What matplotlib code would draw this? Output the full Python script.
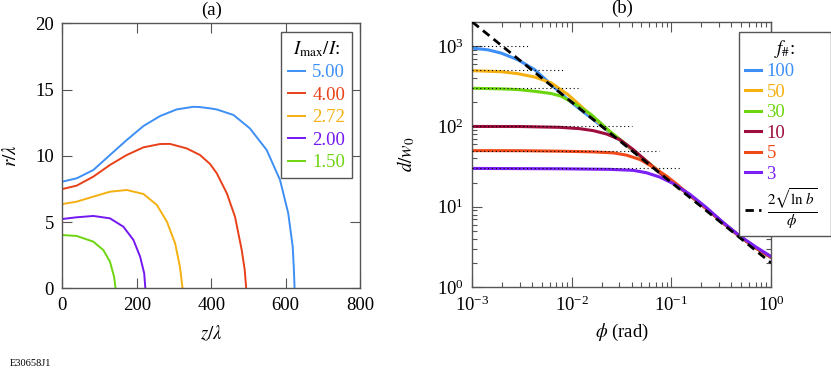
import matplotlib
matplotlib.use("Agg")
import matplotlib.pyplot as plt

plt.rcParams["font.family"] = ["Liberation Serif", "DejaVu Serif"]
plt.rcParams["mathtext.fontset"] = "stix"
plt.rcParams["font.size"] = 13.5

# ---- panel (a): contours r/lambda vs z/lambda ----
ratio_labels = ["5.00", "4.00", "2.72", "2.00", "1.50"]
ratio_colors = ["#3d8ff5", "#e84018", "#f5b012", "#7318f0", "#6dd510"]

z_500 = [0, 38.6, 83.4, 128, 173, 218, 262.5, 307, 352, 370, 397, 415, 460, 504, 549, 585, 607, 619, 622, 624]
r_500 = [8.05, 8.30, 8.93, 10.06, 11.19, 12.25, 13.0, 13.5, 13.7, 13.68, 13.58, 13.5, 13.08, 12.07, 10.44, 8.17, 5.66, 3.14, 1.5, 0]

z_400 = [0, 38.6, 83.4, 128, 173, 218, 262.5, 289, 334, 370, 397, 415, 442, 464, 482, 490, 494]
r_400 = [7.49, 7.75, 8.43, 9.31, 10.06, 10.64, 10.89, 10.9, 10.56, 10.06, 9.38, 8.68, 7.17, 5.4, 2.89, 1.4, 0]

z_272 = [0, 38.6, 83.4, 128, 173, 218, 254, 281, 303, 316, 323]
r_272 = [6.36, 6.54, 6.92, 7.29, 7.42, 7.12, 6.29, 5.03, 3.40, 1.63, 0]

z_200 = [0, 38.6, 83.4, 128, 164, 191, 209, 220, 223]
r_200 = [5.23, 5.36, 5.46, 5.28, 4.65, 3.65, 2.39, 1.13, 0]

z_150 = [0, 38.6, 83.4, 110, 128, 139, 143]
r_150 = [4.02, 3.95, 3.52, 2.89, 2.01, 0.88, 0]

# ---- panel (b): d/w0 vs phi ----
fnum_labels = ["100", "50", "30", "10", "5", "3"]
fnum_colors = ["#3d8ff5", "#f5b012", "#6dd510", "#9c0d3c", "#ef4a17", "#7a1ff5"]

tail_phi = [0.153, 0.224, 0.33, 0.48, 0.71, 1.0]
tail_d = [13.9, 9.5, 6.3, 4.3, 3.05, 2.35]

phi_100 = [1e-3, 1.44e-3, 1.95e-3, 2.87e-3, 4.23e-3, 6.21e-3, 9.12e-3, 1.34e-2, 2.0e-2, 3.0e-2, 5e-2, 0.1] + tail_phi
d_100 = [945, 900, 819, 677, 509, 332, 216, 148, 101, 68, 41, 20.5] + tail_d

phi_50 = [1e-3, 1.95e-3, 2.87e-3, 4.23e-3, 6.21e-3, 9.12e-3, 1.34e-2, 2.0e-2, 3.0e-2, 5e-2, 0.1] + tail_phi
d_50 = [495, 481, 454, 413, 348, 250, 163, 104, 69, 41.5, 20.5] + tail_d

phi_30 = [1e-3, 1.95e-3, 2.87e-3, 4.23e-3, 6.21e-3, 7.8e-3, 1.06e-2, 1.56e-2, 2.4e-2, 3.5e-2, 5e-2, 0.1] + tail_phi
d_30 = [299, 294, 288, 274, 257, 238, 193, 141, 87, 60, 41.5, 20.5] + tail_d

phi_10 = [1e-3, 3e-3, 7.6e-3, 1.2e-2, 1.637e-2, 2.229e-2, 3.028e-2, 4.121e-2, 5.61e-2, 7.63e-2, 0.1] + tail_phi
d_10 = [100, 99.8, 97.5, 93.8, 88.7, 80.5, 68.6, 51.6, 37.0, 26.5, 20.5] + tail_d

phi_5 = [1e-3, 3e-3, 7.59e-3, 1.637e-2, 2.594e-2, 3.54e-2, 4.812e-2, 6.534e-2, 8.91e-2, 0.112] + tail_phi
d_5 = [50, 49.9, 49.2, 48.2, 46.9, 43.9, 38.8, 31.2, 24.1, 19.3] + tail_d

phi_3 = [1e-3, 7.6e-3, 2.404e-2, 4.12e-2, 5.61e-2, 7.63e-2, 0.1037, 0.153, 0.224, 0.33, 0.4835, 0.711, 1.0]
d_3 = [30, 29.7, 29.2, 28.4, 26.5, 23.4, 19.5, 14.3, 9.77, 6.37, 4.35, 3.13, 2.40]

asym_phi = [1e-3, 1.0]
asym_d = [2000, 2.0]

plateau_d = [1000, 500, 300, 100, 50, 30]
plateau_end = [3.8e-3, 8.1e-3, 1.23e-2, 3.97e-2, 7.5e-2, 0.125]

spine_col = "#555555"

fig = plt.figure(figsize=(8.31, 3.68), dpi=100)
ax1 = fig.add_axes([0.075, 0.2166, 0.3583, 0.720])
ax2 = fig.add_axes([0.5684, 0.2201, 0.3594, 0.7201])

# panel (a)
curves_a = [(z_500, r_500), (z_400, r_400), (z_272, r_272), (z_200, r_200), (z_150, r_150)]
for (z, r), lab, c in zip(curves_a, ratio_labels, ratio_colors):
    ax1.plot(z, r, color=c, lw=1.4, label=lab, solid_joinstyle="round")

ax1.set_xlim(0, 800)
ax1.set_ylim(0, 20)
ax1.set_xticks([0, 200, 400, 600, 800])
ax1.set_yticks([0, 5, 10, 15, 20])
ax1.set_xlabel(r"$z/\lambda$")
ax1.set_ylabel(r"$r/\lambda$")
ax1.xaxis.set_label_coords(0.5, -0.135)
ax1.yaxis.set_label_coords(-0.142, 0.5)
ax1.text(0.5, 1.05, "(a)", transform=ax1.transAxes, ha="center", va="center")

leg1 = ax1.legend(loc="upper right", bbox_to_anchor=(0.972, 0.966), borderaxespad=0,
                  title=r"$I_{\mathrm{max}}/I$:", frameon=True, fancybox=False,
                  edgecolor=spine_col, framealpha=1, handlelength=0.9, handletextpad=0.4,
                  labelspacing=0.29, borderpad=0.35, labelcolor="linecolor")
leg1.get_frame().set_linewidth(1.0)
leg1.get_title().set_fontsize(13.5)

# panel (b)
curves_b = [(phi_100, d_100), (phi_50, d_50), (phi_30, d_30), (phi_10, d_10), (phi_5, d_5), (phi_3, d_3)]
for i, ((p, d), lab, c) in enumerate(zip(curves_b, fnum_labels, fnum_colors)):
    ax2.plot(p, d, color=c, lw=2.2, label=lab, zorder=2 + i * 0.1, solid_joinstyle="round")

for val, end in zip(plateau_d, plateau_end):
    ax2.plot([1e-3, end], [val, val], color="black", lw=0.8, ls=(0, (1, 2.5)), zorder=5)

ax2.plot(asym_phi, asym_d, color="black", lw=2.0, dashes=(3.0, 1.9), zorder=4,
         label=r"$\frac{2\sqrt{\ln\, b}}{\phi}$")

ax2.set_xscale("log")
ax2.set_yscale("log")
ax2.set_xlim(1e-3, 1)
ax2.set_ylim(1, 2000)
ax2.set_xlabel(r"$\phi$ (rad)")
ax2.set_ylabel(r"$d/w_0$")
ax2.xaxis.set_label_coords(0.5, -0.132)
ax2.yaxis.set_label_coords(-0.185, 0.5)
ax2.text(0.5, 1.052, "(b)", transform=ax2.transAxes, ha="center", va="center")

leg2 = ax2.legend(loc="upper left", bbox_to_anchor=(0.894, 0.0, 0.306, 0.961), mode="expand",
                  borderaxespad=0, title=r"$f_{\#}$:", frameon=True, fancybox=False,
                  edgecolor=spine_col, framealpha=1, handlelength=0.85, handletextpad=0.3,
                  labelspacing=0.18, borderpad=0.3, labelcolor="linecolor")
leg2.get_frame().set_linewidth(1.0)
leg2.get_title().set_fontsize(13.5)
leg2.get_texts()[-1].set_fontsize(15.5)
leg2.set_zorder(10)

for ax in (ax1, ax2):
    for s in ax.spines.values():
        s.set_color(spine_col)
        s.set_linewidth(1.0)
    ax.tick_params(which="major", direction="in", top=True, right=True, length=7,
                   width=0.8, color=spine_col, pad=6, labelsize=13.5)
    ax.tick_params(which="minor", direction="in", top=True, right=True, length=3.5,
                   width=0.8, color=spine_col)

fig.text(10 / 831, 1 - 363 / 368, "E30658J1", fontsize=7.5, va="center", ha="left")

fig.savefig("out.png", dpi=100)
